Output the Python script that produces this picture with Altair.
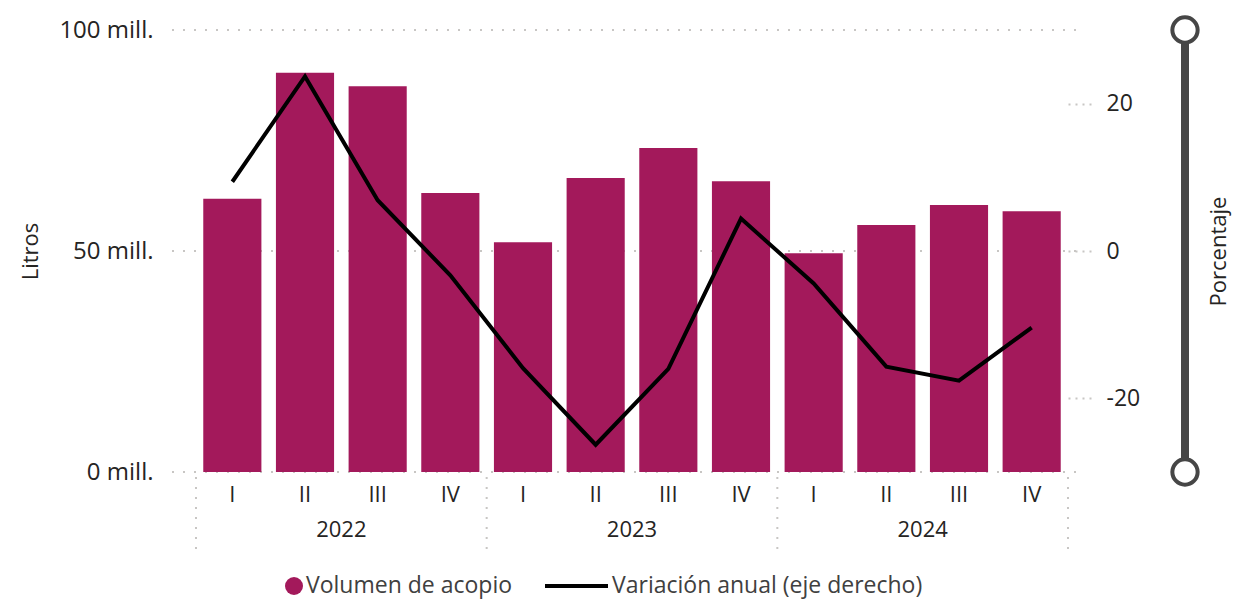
import altair as alt
import pandas as pd

# ---- data ----
anios = ["2022", "2023", "2024"]
trimestres = ["I", "II", "III", "IV"]
periodos = [f"{a}-{t}" for a in anios for t in trimestres]
volumen_mill = [61.8, 90.3, 87.3, 63.1, 52.0, 66.5, 73.3, 65.8, 49.5, 55.9, 60.4, 59.0]
variacion = [9.4, 23.7, 6.9, -3.3, -15.9, -26.3, -16.0, 4.4, -4.4, -15.7, -17.6, -10.4]
left_ticks = [0, 50, 100]
right_ticks = [-20, 0, 20]

df = pd.DataFrame({"periodo": periodos, "volumen": volumen_mill, "variacion": variacion})
years_df = pd.DataFrame({"periodo": [f"{a}-II" for a in anios], "anio": anios})

# ---- layout ----
W, H = 872, 442
STEP = W / 12
FONT = "Open Sans"
BAR = "#A3195B"
TXT = "#252423"
GRID = "#C8C6C4"

xscale = alt.Scale(domain=periodos, paddingInner=0.2, paddingOuter=0.1)
x_enc = alt.X("periodo:N", scale=xscale, sort=periodos,
              axis=alt.Axis(title=None, labelExpr="split(datum.label, '-')[1]",
                            labelAngle=0, ticks=False, domain=False, grid=False,
                            labelFontSize=22, labelColor=TXT, labelFont=FONT,
                            labelPadding=12))

# gridlines (left axis)
grid = alt.Chart(pd.DataFrame({"v": left_ticks})).mark_rule(
    color=GRID, strokeDash=[2, 9], strokeWidth=2
).encode(y=alt.Y("v:Q", scale=alt.Scale(domain=[0, 100])),
         x=alt.value(-24), x2=alt.value(W + 17))

bars = alt.Chart(df).mark_bar(color=BAR).encode(
    x=x_enc,
    y=alt.Y("volumen:Q", scale=alt.Scale(domain=[0, 100], nice=False),
            axis=alt.Axis(values=left_ticks, labelExpr="datum.value + ' mill.'",
                          grid=False, ticks=False, domain=False,
                          labelFontSize=24, labelColor=TXT, labelFont=FONT,
                          labelPadding=43, title="Litros", titleFont=FONT,
                          titleFontSize=22, titleFontWeight="normal", titleColor=TXT,
                          titleAngle=270, titleX=-166, titleY=H / 2,
                          titleAlign="center", titleBaseline="middle")),
)

left_layer = alt.layer(grid, bars)

line = alt.Chart(df).mark_line(color="black", strokeWidth=4, strokeJoin="miter").encode(
    x=alt.X("periodo:N", scale=xscale, sort=periodos),
    y=alt.Y("variacion:Q", scale=alt.Scale(domain=[-30, 30], nice=False),
            axis=alt.Axis(orient="right", values=right_ticks, grid=False,
                          labelExpr="(datum.value < 0 ? '-' : '') + abs(datum.value)",
                          ticks=True, tickSize=24, tickColor=GRID, tickDash=[2, 5],
                          tickWidth=2, domain=False,
                          labelFontSize=23, labelColor=TXT, labelFont=FONT,
                          labelPadding=14, labelAlign="left",
                          title="Porcentaje", titleFont=FONT, titleFontSize=22,
                          titleFontWeight="normal", titleColor=TXT,
                          titleAngle=270, titleX=150, titleY=H / 2,
                          titleAlign="center", titleBaseline="middle")),
)

# year labels under quarter labels
years = alt.Chart(years_df).mark_text(
    font=FONT, fontSize=22, color=TXT, baseline="top", dx=STEP / 2
).encode(x=alt.X("periodo:N", scale=xscale, sort=periodos), y=alt.value(H + 48),
         text="anio:N")

# group separators
sep_df = pd.DataFrame({"k": [0, 1, 2, 3]})
seps = alt.Chart(sep_df).mark_rule(color=GRID, strokeDash=[2, 8], strokeWidth=2).encode(
    x=alt.X("xp:Q", scale=None), y=alt.value(H + 5), y2=alt.value(H + 80)
).transform_calculate(xp=f"datum.k * {4 * STEP}")

# zoom slider (decoration)
slider_df = pd.DataFrame({"y": [0, H]})
slider_rule = alt.Chart(pd.DataFrame({"a": [0]})).mark_rule(
    color="#464646", strokeWidth=8).encode(
    x=alt.value(989), y=alt.value(0), y2=alt.value(H))
slider_pts = alt.Chart(slider_df).mark_point(
    shape="circle", size=640, filled=True, fill="white", stroke="#464646",
    strokeWidth=4, opacity=1).encode(
    x=alt.value(989), y=alt.Y("y:Q", scale=None))

# legend (custom)
LY = 556
leg1 = alt.Chart(pd.DataFrame({"a": [0]})).mark_point(
    shape="circle", size=324, filled=True, color=BAR, opacity=1).encode(
    x=alt.value(98), y=alt.value(LY))
leg1t = alt.Chart(pd.DataFrame({"t": ["Volumen de acopio"]})).mark_text(
    font=FONT, fontSize=23, color="#404040", align="left", baseline="middle").encode(
    x=alt.value(110), y=alt.value(LY), text="t:N")
leg2 = alt.Chart(pd.DataFrame({"a": [0]})).mark_rule(
    color="black", strokeWidth=4).encode(
    x=alt.value(349), x2=alt.value(412), y=alt.value(LY))
leg2t = alt.Chart(pd.DataFrame({"t": ["Variación anual (eje derecho)"]})).mark_text(
    font=FONT, fontSize=23, color="#404040", align="left", baseline="middle").encode(
    x=alt.value(416), y=alt.value(LY), text="t:N")

chart = alt.layer(
    left_layer, line, years, seps, slider_rule, slider_pts, leg1, leg1t, leg2, leg2t
).resolve_scale(y="independent").properties(
    width=W, height=H,
    autosize=alt.AutoSizeParams(type="none"),
    padding={"left": 188, "top": 22, "right": 164, "bottom": 130},
).configure(font=FONT, view=alt.ViewConfig(stroke="transparent", strokeWidth=0))

chart.save("out.html", embed_options={"renderer": "svg", "actions": False})
